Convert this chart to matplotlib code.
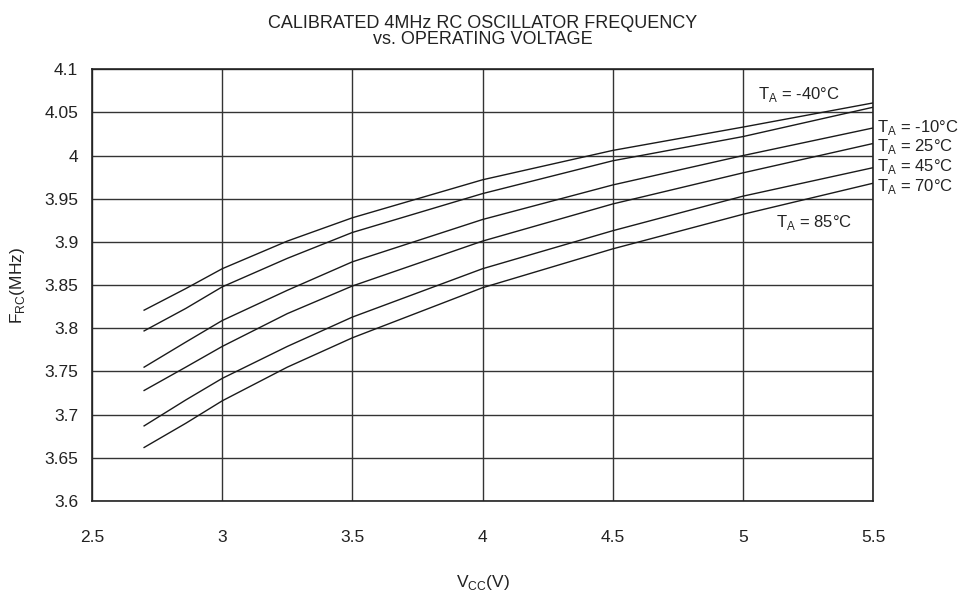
"""
Calibrated 4 MHz RC oscillator frequency vs. operating voltage,
one curve per ambient temperature.
"""

import matplotlib
matplotlib.use("Agg")
import matplotlib.pyplot as plt

plt.rcParams["font.family"] = ["Liberation Sans", "DejaVu Sans"]
plt.rcParams["mathtext.fontset"] = "custom"
plt.rcParams["mathtext.rm"] = "Liberation Sans"

# -- Data ----------------------------------------------------------------------
VCC = [2.7, 2.86, 3.0, 3.25, 3.5, 4.0, 4.5, 5.0, 5.5]

F_M40 = [3.821, 3.846, 3.869, 3.901, 3.928, 3.972, 4.006, 4.033, 4.061]
F_M10 = [3.797, 3.823, 3.848, 3.881, 3.911, 3.956, 3.994, 4.022, 4.056]
F_25  = [3.755, 3.784, 3.809, 3.844, 3.877, 3.926, 3.966, 4.000, 4.032]
F_45  = [3.728, 3.755, 3.779, 3.817, 3.849, 3.901, 3.944, 3.980, 4.014]
F_70  = [3.687, 3.717, 3.742, 3.779, 3.813, 3.869, 3.913, 3.953, 3.986]
F_85  = [3.662, 3.690, 3.716, 3.755, 3.789, 3.847, 3.892, 3.932, 3.968]

SERIES = [F_M40, F_M10, F_25, F_45, F_70, F_85]

X_TICKS = [2.5, 3, 3.5, 4, 4.5, 5, 5.5]
Y_TICKS = [3.6, 3.65, 3.7, 3.75, 3.8, 3.85, 3.9, 3.95, 4, 4.05, 4.1]

TA = r"T$_{\mathregular{A}}$"

# -- Plot ----------------------------------------------------------------------
fig = plt.figure(figsize=(9.74, 5.92), dpi=100)
ax = fig.add_axes([0.0945, 0.1537, 0.8018, 0.7293])

for f in SERIES:
    ax.plot(VCC, f, color="#1a1a1a", linewidth=1.0, zorder=3)

ax.set_xlim(2.5, 5.5)
ax.set_ylim(3.6, 4.1)
ax.set_xticks(X_TICKS)
ax.set_xticklabels([f"{v:g}" for v in X_TICKS])
ax.set_yticks(Y_TICKS)
ax.set_yticklabels([f"{v:g}" for v in Y_TICKS])
ax.tick_params(axis="x", length=0, pad=21, labelsize=12.5, colors="#222222")
ax.tick_params(axis="y", length=0, pad=10, labelsize=12.5, colors="#222222")
ax.grid(True, color="#333333", linewidth=1.0)
for sp in ax.spines.values():
    sp.set_color("#222222")
    sp.set_linewidth(1.2)

ax.set_xlabel(r"V$_{\mathregular{CC}}$(V)", fontsize=12.5, labelpad=20,
              color="#222222")
ax.set_ylabel(r"F$_{\mathregular{RC}}$(MHz)", fontsize=12.5, labelpad=12,
              color="#222222")
ax.set_title("CALIBRATED 4MHz RC OSCILLATOR FREQUENCY\nvs. OPERATING VOLTAGE",
             fontsize=13, linespacing=0.95, pad=18, color="#222222")

# -- Temperature labels --------------------------------------------------------
ax.text(5.058, 4.071, f"{TA} = -40°C", fontsize=12, va="center",
        color="#222222")
ax.text(5.127, 3.922, f"{TA} = 85°C", fontsize=12, va="center",
        color="#222222")
for label, y in [("-10°C", 4.032), ("25°C", 4.010),
                 ("45°C", 3.987), ("70°C", 3.964)]:
    ax.text(5.515, y, f"{TA} = {label}", fontsize=12, va="center",
            color="#222222", clip_on=False)

fig.savefig("out.png", dpi=100)
